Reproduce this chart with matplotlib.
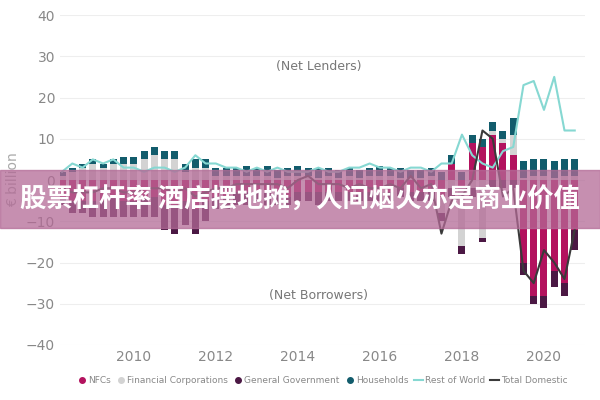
import numpy as np
import matplotlib.pyplot as plt
from matplotlib.patches import Rectangle
from matplotlib.lines import Line2D

plt.rcParams['font.family'] = ['DejaVu Sans']

# quarterly, 2008Q2 .. 2020Q4
t = 2008.25 + 0.25 * np.arange(51)
nfc = [-4, -5, -5,
       -5, -5, -4, -5,
       -5, -4, -4, -6,
       -6, -5, -7, -5,
       -4, -4, -3, -3,
       -3, -3, -3, -4,
       -3, -3, -3, -3,
       -3, -3, -3, -3,
       -3, -3, -2, -3,
       -3, -3, -4, 4,
       -2, 9, 8, 11,
       9, 6, -20, -28,
       -28, -22, -25, -12]
fc = [1, 2, 3,
      4, 3, 4, 4,
      4, 5, 6, 5,
      5, 2, 3, 3,
      1, 1, 1, 1,
      1, 1, 0.5, 1,
      1, 1, 0.5, 1,
      0.5, 1, 0.5, 1,
      1, 1, 0.5, 0.5,
      0.5, 1, -4, -2,
      -14, -2, -14, 1,
      1, 5, 0.5, 1,
      1, 0.5, 1, 1]
gg = [-2, -3, -3,
      -4, -4, -5, -4,
      -4, -5, -5, -6,
      -7, -6, -6, -5,
      -3, -3, -3, -3,
      -2, -3, -3, -2,
      -2, -2, -3, -2,
      -2, -2, -2, -2,
      -2, -2, -2, -2,
      -2, -2, -2, -2,
      -2, -2, -1, -2,
      -2, -2, -3, -2,
      -3, -4, -3, -5]
hh = [1, 1, 1,
      1, 1, 1, 1.5,
      1.5, 2, 2, 2,
      2, 2, 2, 2,
      2, 2, 2, 2.5,
      2, 2.5, 2, 2,
      2.5, 2, 2.5, 2,
      2, 2, 2, 2,
      2.5, 2, 2.5, 2,
      2, 2, 2, 2,
      2, 2, 2, 2,
      2, 4, 4, 4,
      4, 4, 4, 4]
row = [2, 4, 3,
       5, 4, 5, 3,
       3, 2, 3, 3,
       2, 3, 6, 4,
       4, 3, 3, 2,
       3, 2, 3, 2,
       2, 2, 3, 2,
       2, 3, 3, 4,
       3, 3, 2, 3,
       3, 2, 4, 4,
       11, 6, 4, 3,
       7, 8, 23, 24,
       17, 25, 12, 12]
total = [-2, -3, -3,
         -3, -2, -2, -3,
         -3, -2, -2, -2,
         -3, -2, -4, -3,
         -2, -2, -1, -1,
         -1, -1, -1, -2,
         0, 1, -1, -1,
         -1, -2, -1, -2,
         -2, -1, -2, 1,
         -2, -1, -13, -5,
         -4, 0, 12, 10,
         -4, -2, -22, -25,
         -17, -20, -24, -12]

colors = {'NFCs': '#b3125e', 'Financial Corporations': '#d3d3d3',
          'General Government': '#4b1844', 'Households': '#125c6c'}
series = [('NFCs', nfc), ('Financial Corporations', fc),
          ('General Government', gg), ('Households', hh)]

fig = plt.figure(figsize=(6, 4), dpi=100)
ax = fig.add_axes([0.1, 0.1375, 0.875, 0.825])

pos = np.zeros(len(t))
neg = np.zeros(len(t))
for name, vals in series:
    v = np.array(vals, dtype=float)
    bottom = np.where(v >= 0, pos, neg)
    ax.bar(t, v, width=0.17, bottom=bottom, color=colors[name])
    pos += np.where(v >= 0, v, 0)
    neg += np.where(v < 0, v, 0)

ax.plot(t, row, color='#86d8d2', lw=1.5)
ax.plot(t, total, color='#3a3a3a', lw=1.5)

ax.set_xlim(2008.2, 2021.0)
ax.set_ylim(-40, 40)
ax.set_yticks(range(-40, 41, 10))
ax.set_xticks(range(2010, 2021, 2))
ax.grid(axis='y', color='#eeeeee', lw=0.8)
ax.set_axisbelow(True)
for s in ax.spines.values():
    s.set_visible(False)
ax.tick_params(length=0, colors='#888888', labelsize=10)
ax.set_ylabel('€ billion', color='#aaaaaa', fontsize=10)
ax.text(2014.5, 27.5, '(Net Lenders)', ha='center', va='center', color='#777777', fontsize=9)
ax.text(2014.5, -28, '(Net Borrowers)', ha='center', va='center', color='#777777', fontsize=9)

handles = [Line2D([], [], ls='none', marker='o', ms=4, color=colors[n]) for n, _ in series]
handles += [Line2D([], [], color='#86d8d2', lw=1.5), Line2D([], [], color='#3a3a3a', lw=1.5)]
labels = [n for n, _ in series] + ['Rest of World', 'Total Domestic']
ax.legend(handles, labels, loc='upper center', bbox_to_anchor=(0.5, -0.07), ncol=6,
          frameon=False, fontsize=6.5, handlelength=1.0, handletextpad=0.2,
          columnspacing=0.6, labelcolor='#888888')

fig.patches.append(Rectangle((0, 0.43), 1, 0.145, transform=fig.transFigure,
                             color='#b36a96', alpha=0.75, zorder=10))
fig.text(0.5, 0.5, '股票杠杆率 酒店摆地摊，人间烟火亦是商业价值', ha='center', va='center',
         color='white', fontsize=19, fontweight='bold', zorder=11,
         family=['Noto Sans CJK SC', 'DejaVu Sans'])

fig.savefig('out.png')
